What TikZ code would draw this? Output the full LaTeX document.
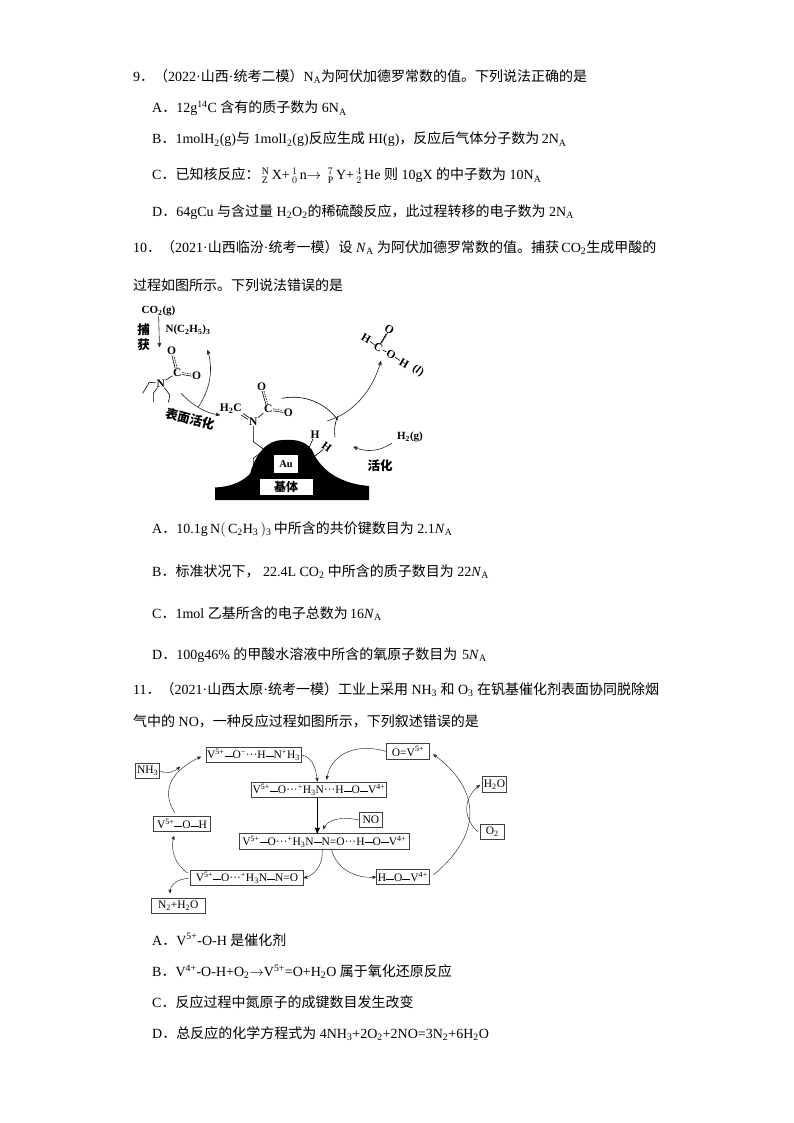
\documentclass[tikz,border=0pt]{standalone}
\usepackage{fontspec}
\setmainfont{Liberation Serif}
\newfontfamily\cjk{Noto Sans CJK SC}
\newcommand{\zh}[1]{{\cjk #1}}
\newcommand{\NA}{N\textsubscript{A}}
\newcommand{\NAi}{\textit{N}\textsubscript{A}}
\newcommand{\bd}{\rule[2.7pt]{8pt}{0.4pt}}
\usetikzlibrary{positioning,calc,arrows,shapes}
\tikzset{
  line/.style={anchor=base west,inner sep=0pt,font=\fontsize{14}{16}\selectfont},
  vbox/.style={draw=black!75,line width=0.6pt,inner sep=1pt,minimum height=15.5pt,font=\fontsize{11.5}{12}\selectfont},
  flow/.style={->,>=stealth',line width=0.45pt,black!85},
  atom/.style={inner sep=0.4pt,font=\bfseries\fontsize{11.5}{12}\selectfont},
  label/.style={inner sep=0pt,font=\bfseries\fontsize{11}{12}\selectfont},
  zhlabel/.style={inner sep=0pt,font=\bfseries\fontsize{12.5}{13}\selectfont},
  bond/.style={line width=0.6pt},
  mythick/.style={line width=1.1pt}
}

\begin{document}
\begin{tikzpicture}[x=1pt,y=-1pt]
    \useasboundingbox (0,0) rectangle (794,1123);
    % question 9
    \node at (133, 81.5) [line] (q9) {9\zh{．（}2022·\zh{山西}·\zh{统考二模）}\NA\zh{为阿伏加德罗常数的值。下列说法正确的是}};
    \node at (152, 113) [line] (q9a) {A\zh{．}12g\textsuperscript{14}C \zh{含有的质子数为} 6\NA};
    \node at (152, 144) [line] (q9b) {B\zh{．}1molH\textsubscript{2}(g)\zh{与} 1molI\textsubscript{2}(g)\zh{反应生成} HI(g)\zh{，反应后气体分子数为}\,2\NA};
    \node at (152, 180) [line] (q9c) {C\zh{．已知核反应：}\,$^{\mathrm{N}}_{\mathrm{Z}}$\,X+\,$^{1}_{0}$\,n$\rightarrow\,^{7}_{\mathrm{P}}$\,Y+\,$^{4}_{2}$\,He \zh{则} 10gX \zh{的中子数为} 10\NA};
    \node at (152, 216.5) [line] (q9d) {D\zh{．}64gCu \zh{与含过量} H\textsubscript{2}O\textsubscript{2}\zh{的稀硫酸反应，此过程转移的电子数为} 2\NA};
    % question 10
    \node at (133, 252) [line] (q10) {10\zh{．（}2021·\zh{山西临汾}·\zh{统考一模）设} \NAi{} \zh{为阿伏加德罗常数的值。捕获}\,CO\textsubscript{2}\zh{生成甲酸的}};
    \node at (133, 290) [line] (q10l) {\zh{过程如图所示。下列说法错误的是}};

    % black support with the Au particle
    \fill (215,487.5) .. controls (228,487) and (241,483) .. (250,474)
      .. controls (256,452) and (268,440) .. (283,440)
      .. controls (298,439) and (306,442) .. (312,450)
      .. controls (322,474) and (345,484) .. (369,486)
      -- (369,500) -- (215,500) -- cycle;
    \node at (286, 464) [fill=white,minimum width=24pt,minimum height=18pt,inner sep=0pt,font=\bfseries\fontsize{10.5}{12}\selectfont] (Au) {Au};
    \node at (286, 487) [fill=white,minimum width=53pt,minimum height=16pt,inner sep=0pt,font=\bfseries\fontsize{12}{13}\selectfont] (base) {\zh{基体}};

    \node at (158.5, 311) [label] (CO2) {CO\textsubscript{2}(g)};
    \node at (188, 330) [label] (NEt3) {N(C\textsubscript{2}H\textsubscript{5})\textsubscript{3}};
    \node at (143.5, 330) [zhlabel] (catch1) {\zh{捕}};
    \node at (143.5, 345) [zhlabel] (catch2) {\zh{获}};
    \coordinate (capture) at (159.5, 347);
    \node at (190, 419) [zhlabel,rotate=-15] (surf) {\zh{表面活化}};
    \node at (380, 466) [zhlabel] (act) {\zh{活化}};
    \node at (410, 437) [label] (H2g) {H\textsubscript{2}(g)};

    % adsorbed carbamate, left
    \node at (171.7, 351) [atom] (O1) {O};
    \node at (177.3, 372.7) [atom] (C1) {C};
    \node at (196.7, 376) [atom] (O2) {O};
    \node at (160.7, 383.3) [atom] (N1) {N};
    \coordinate (e1a) at (149.3, 382.3);
    \coordinate (e1b) at (142.7, 393.3);
    \coordinate (e2a) at (153.3, 393.3);
    \coordinate (e2b) at (153.3, 402.3);
    \coordinate (e3a) at (170, 395);
    \coordinate (e3b) at (168.3, 402.3);
    \draw[bond] (N1) -- (C1);
    \draw[bond] (N1) -- (e1a) -- (e1b);
    \draw[bond] (N1) -- (e2a) -- (e2b);
    \draw[bond] (N1) -- (e3a) -- (e3b);
    \draw[bond,transform canvas={xshift=-1pt}] (C1) -- (O1);
    \draw[bond,dashed,dash pattern=on 1.5pt off 1pt,transform canvas={xshift=1pt}] (C1) -- (O1);
    \draw[bond,transform canvas={yshift=-1pt}] (C1) -- (O2);
    \draw[bond,dashed,dash pattern=on 1.5pt off 1pt,transform canvas={yshift=1pt}] (C1) -- (O2);

    % adsorbed species on the mound
    \node at (230.7, 409) [atom] (H2C) {H\textsubscript{2}C};
    \node at (253.3, 421.7) [atom] (N2) {N};
    \node at (268.3, 409) [atom] (C2) {C};
    \node at (261.7, 386.7) [atom] (O3) {O};
    \node at (288.3, 412.3) [atom] (O4) {O};
    \coordinate (a1) at (253.3, 441.7);
    \coordinate (a2) at (263.3, 449);
    \coordinate (a3) at (263, 451);
    \coordinate (a4) at (253.3, 458.3);
    \coordinate (a5) at (253.3, 468);
    \draw[bond] (N2) -- (a1) -- (a2);
    \draw[bond] (a3) -- (a4) -- (a5);
    \draw[bond] (N2) -- (C2);
    \draw[bond,transform canvas={xshift=-0.8pt,yshift=-0.8pt}] (H2C.south east) -- (N2);
    \draw[bond,transform canvas={xshift=0.8pt,yshift=0.8pt}] (H2C.south east) -- (N2);
    \draw[bond,transform canvas={xshift=-1pt}] (C2) -- (O3);
    \draw[bond,dashed,dash pattern=on 1.5pt off 1pt,transform canvas={xshift=1pt}] (C2) -- (O3);
    \draw[bond,transform canvas={yshift=-1pt}] (C2) -- (O4);
    \draw[bond,dashed,dash pattern=on 1.5pt off 1pt,transform canvas={yshift=1pt}] (C2) -- (O4);

    \node at (315, 434.3) [atom] (Ha) {H};
    \node at (326.7, 446.7) [atom,rotate=-35] (Hb) {H};
    \coordinate (Hab) at (308, 450);
    \coordinate (Hbb) at (315, 456);
    \draw[bond] (Ha) -- (Hab);
    \draw[bond] (Hb) -- (Hbb);

    % formic acid
    \node at (366, 338.3) [atom,rotate=-30] (Hf1) {H};
    \node at (378.3, 347.7) [atom,rotate=-30] (Cf) {C};
    \node at (389.3, 329.3) [atom,rotate=-30] (Of1) {O};
    \node at (391, 354.3) [atom,rotate=-30] (Of2) {O};
    \node at (404, 363.3) [atom,rotate=-30] (Hf2) {H};
    \node at (418, 371) [atom,rotate=-30] (liq) {(\textit{l})};
    \draw[bond] (Hf1) -- (Cf);
    \draw[bond] (Cf) -- (Of2);
    \draw[bond] (Of2) -- (Hf2);
    \draw[bond,transform canvas={xshift=-0.8pt,yshift=-0.6pt}] (Cf) -- (Of1);
    \draw[bond,transform canvas={xshift=0.8pt,yshift=0.6pt}] (Cf) -- (Of1);

    % arrows of the cycle
    \coordinate (r1) at (198.3, 407);
    \coordinate (r2) at (207.5, 350);
    \coordinate (r3) at (181, 393.3);
    \coordinate (r4) at (220, 415);
    \coordinate (r5) at (281.7, 398.3);
    \coordinate (r6) at (338, 420);
    \coordinate (r7) at (327, 421);
    \coordinate (r8) at (381, 361);
    \coordinate (r9) at (335, 437);
    \coordinate (r10) at (338, 416);
    \coordinate (r11) at (391.7, 443.3);
    \coordinate (r12) at (353.3, 446.7);
    \draw[flow,bond] (CO2) -- (capture);
    \draw[flow,bond] (r1) .. controls (213,385) and (212,365) .. (r2);
    \draw[flow,bond] (r3) .. controls (192,405) and (205,413) .. (r4);
    \draw[bond] (r5) .. controls (305,394) and (325,403) .. (r6);
    \draw[flow,bond] (r7) .. controls (352,414) and (372,392) .. (r8);
    \draw[bond] (r9) .. controls (334,428) and (335,422) .. (r10);
    \draw[flow,bond] (r11) .. controls (380,451) and (367,453) .. (r12);

    % answers of question 10
    \node at (152, 533) [line] (q10a) {A\zh{．}10.1g\,N$\bigl($\,C\textsubscript{2}H\textsubscript{3}\,$\bigr)$\textsubscript{3}\,\zh{中所含的共价键数目为} 2.1\NAi};
    \node at (152, 576.5) [line] (q10b) {B\zh{．标准状况下，} 22.4L CO\textsubscript{2} \zh{中所含的质子数目为} 22\NAi};
    \node at (152, 618) [line] (q10c) {C\zh{．}1mol \zh{乙基所含的电子总数为}\,16\NAi};
    \node at (152, 659) [line] (q10d) {D\zh{．}100g46\% \zh{的甲酸水溶液中所含的氧原子数目为}\,\,5\NAi};
    % question 11
    \node at (133, 694) [line] (q11) {11\zh{．（}2021·\zh{山西太原}·\zh{统考一模）工业上采用} NH\textsubscript{3} \zh{和} O\textsubscript{3} \zh{在钒基催化剂表面协同脱除烟}};
    \node at (133, 726) [line] (q11l) {\zh{气中的} NO\zh{，一种反应过程如图所示，下列叙述错误的是}};

    % vanadium cycle
    \node at (253.5, 755) [vbox,minimum width=91pt] (V1) {V\textsuperscript{5+}\bd O\textsuperscript{−}···H\bd N\textsuperscript{+}H\textsubscript{3}};
    \node at (319, 790) [vbox,minimum width=128pt] (V2) {V\textsuperscript{5+}\bd O···\textsuperscript{+}H\textsubscript{3}N···H\bd O\bd V\textsuperscript{4+}};
    \node at (324.3, 841.5) [vbox,minimum width=170pt] (V3) {V\textsuperscript{5+}\bd O···\textsuperscript{+}H\textsubscript{3}N\bd N=O···H\bd O\bd V\textsuperscript{4+}};
    \node at (247, 878) [vbox,minimum width=112.5pt] (V4) {V\textsuperscript{5+}\bd O···\textsuperscript{+}H\textsubscript{3}N\bd N=O};
    \node at (182, 824) [vbox,minimum width=56.5pt] (V5) {V\textsuperscript{5+}\bd O\bd H};
    \node at (408, 751.5) [vbox,minimum width=42.5pt] (OV) {O=V\textsuperscript{5+}};
    \node at (402.8, 877) [vbox,minimum width=53pt] (HOV) {H\bd O\bd V\textsuperscript{4+}};
    \node at (147.7, 771) [vbox,minimum width=24pt] (NH3) {NH\textsubscript{3}};
    \node at (178.3, 906) [vbox,minimum width=53.5pt] (N2H2O) {N\textsubscript{2}+H\textsubscript{2}O};
    \node at (370.8, 820) [vbox,minimum width=23pt] (NO) {NO};
    \node at (494.5, 784.5) [vbox,minimum width=24pt] (H2O) {H\textsubscript{2}O};
    \node at (492.3, 831.7) [vbox,minimum width=24pt] (O2) {O\textsubscript{2}};
    \coordinate (V1in) at (201, 756.7);
    \coordinate (V5up) at (175, 813);
    \coordinate (NH3in) at (180, 766.7);
    \coordinate (HOVr) at (433.3, 875);
    \coordinate (OVr) at (433.3, 754.3);
    \coordinate (O2l) at (477.7, 831.7);
    \coordinate (H2Ol) at (480, 785);
    \coordinate (V3a) at (322.3, 850);
    \coordinate (V3b) at (331.7, 850);
    \coordinate (V3c) at (323.3, 829.3);
    \coordinate (V2a) at (317.3, 781.5);
    \coordinate (V2b) at (326.7, 779.5);
    \coordinate (V4a) at (188.3, 873.3);
    \coordinate (V4b) at (188.3, 878.3);
    \coordinate (V5in) at (174, 836);
    \coordinate (N2in) at (170, 893.3);

    \draw[flow] (V5up) .. controls (160,790) and (172,770) .. (V1in);
    \draw[flow] (V1.east) .. controls (310,756) and (316,765) .. (V2a);
    \draw[flow] (OV.west) .. controls (355,742) and (330,755) .. (V2b);
    \draw[mythick,->,>=stealth'] (V2.south -| V2a) -- (V3.north -| V2a);
    \draw[flow] (NO.west) .. controls (340,816) and (327,820) .. (V3c);
    \draw[flow] (V3a) .. controls (323,865) and (315,875) .. (V4.east);
    \draw[flow] (V3b) .. controls (336,868) and (355,879) .. (HOV.west);
    \draw[flow] (HOVr) .. controls (482,835) and (482,790) .. (OVr);
    \draw[flow] (O2l) .. controls (460,815) and (466,795) .. (H2Ol);
    \draw[flow] (V4a) .. controls (175,865) and (170,850) .. (V5in);
    \draw[flow] (V4b) .. controls (178,879) and (170,884) .. (N2in);
    \draw[flow] (NH3.east) .. controls (166,774) and (173,773) .. (NH3in);

    % answers of question 11
    \node at (152, 945) [line] (q11a) {A\zh{．}V\textsuperscript{5+}-O-H \zh{是催化剂}};
    \node at (152, 976.5) [line] (q11b) {B\zh{．}V\textsuperscript{4+}-O-H+O\textsubscript{2}$\rightarrow$V\textsuperscript{5+}=O+H\textsubscript{2}O \zh{属于氧化还原反应}};
    \node at (152, 1007) [line] (q11c) {C\zh{．反应过程中氮原子的成键数目发生改变}};
    \node at (152, 1038) [line] (q11d) {D\zh{．总反应的化学方程式为} 4NH\textsubscript{3}+2O\textsubscript{2}+2NO=3N\textsubscript{2}+6H\textsubscript{2}O};
\end{tikzpicture}
\end{document}
